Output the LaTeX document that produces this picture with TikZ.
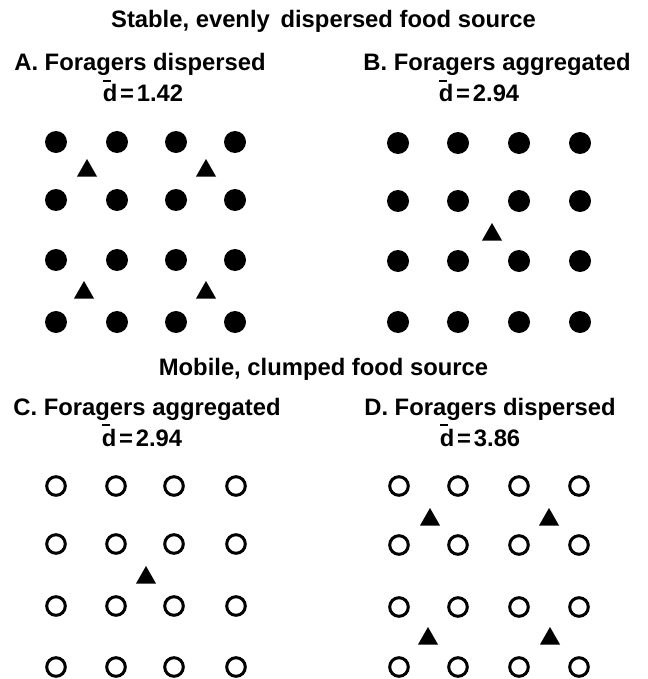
\documentclass[tikz,border=0pt]{standalone}
\usepackage{fontspec}
\setmainfont{Liberation Sans}
\newcommand{\dbr}{\rlap{\hspace{0.03em}\raisebox{0.82em}{\rule{0.30em}{0.09em}}}d}
\newcommand{\deq}[1]{\dbr\hspace{0.12em}=\hspace{0.12em}#1}
\begin{document}
\begin{tikzpicture}[x=1pt,y=-1pt,
  lbl/.style={anchor=base,inner sep=0pt,font=\bfseries\fontsize{23.8}{26}\selectfont},
  fdot/.style={fill=black},
  odot/.style={draw=black,line width=3pt},
  forager/.style={fill=black}]
\useasboundingbox (0,0) rectangle (647,679);
% headings
\node[lbl] (t1) at (323.5,28) {Stable, evenly\hspace{0.45em}dispersed food source};
\node[lbl] (la) at (140,71) {A. Foragers dispersed};
\node[lbl] (da) at (143,102) {\deq{1.42}};
\node[lbl] (lb) at (497,71) {B. Foragers aggregated};
\node[lbl] (db) at (479,102) {\deq{2.94}};
\node[lbl] (t2) at (323.5,375) {Mobile, clumped food source};
\node[lbl] (lc) at (147,415) {C. Foragers aggregated};
\node[lbl] (dc) at (142,446) {\deq{2.94}};
\node[lbl] (ld) at (490,415) {D. Foragers dispersed};
\node[lbl] (dd) at (480,446) {\deq{3.86}};
% Panel A: filled food dots
\foreach \x in {56,117,176,235} \foreach \y in {142,200,260,322}
  \fill[fdot] (\x,\y) circle (11);
% Panel B
\foreach \x in {398,458,519,580} \foreach \y in {143,201,261,322}
  \fill[fdot] (\x,\y) circle (11);
% Panel C: open
\foreach \x in {56,116,174,236} \foreach \y in {486,544,606,667}
  \draw[odot] (\x,\y) circle (9.3);
% Panel D
\foreach \x in {399,458,519,579} \foreach \y in {486,545,607,667}
  \draw[odot] (\x,\y) circle (9.3);
% foragers (triangles)
\foreach \p in {(87,168),(206,168),(84,290),(206,290),(492,232),(146,575),(430,517),(549,517),(428,636),(550,636)}
  \fill[forager] \p ++(-10,8.5) -- ++(20,0) -- ++(-10,-17.5) -- cycle;
\end{tikzpicture}
\end{document}
